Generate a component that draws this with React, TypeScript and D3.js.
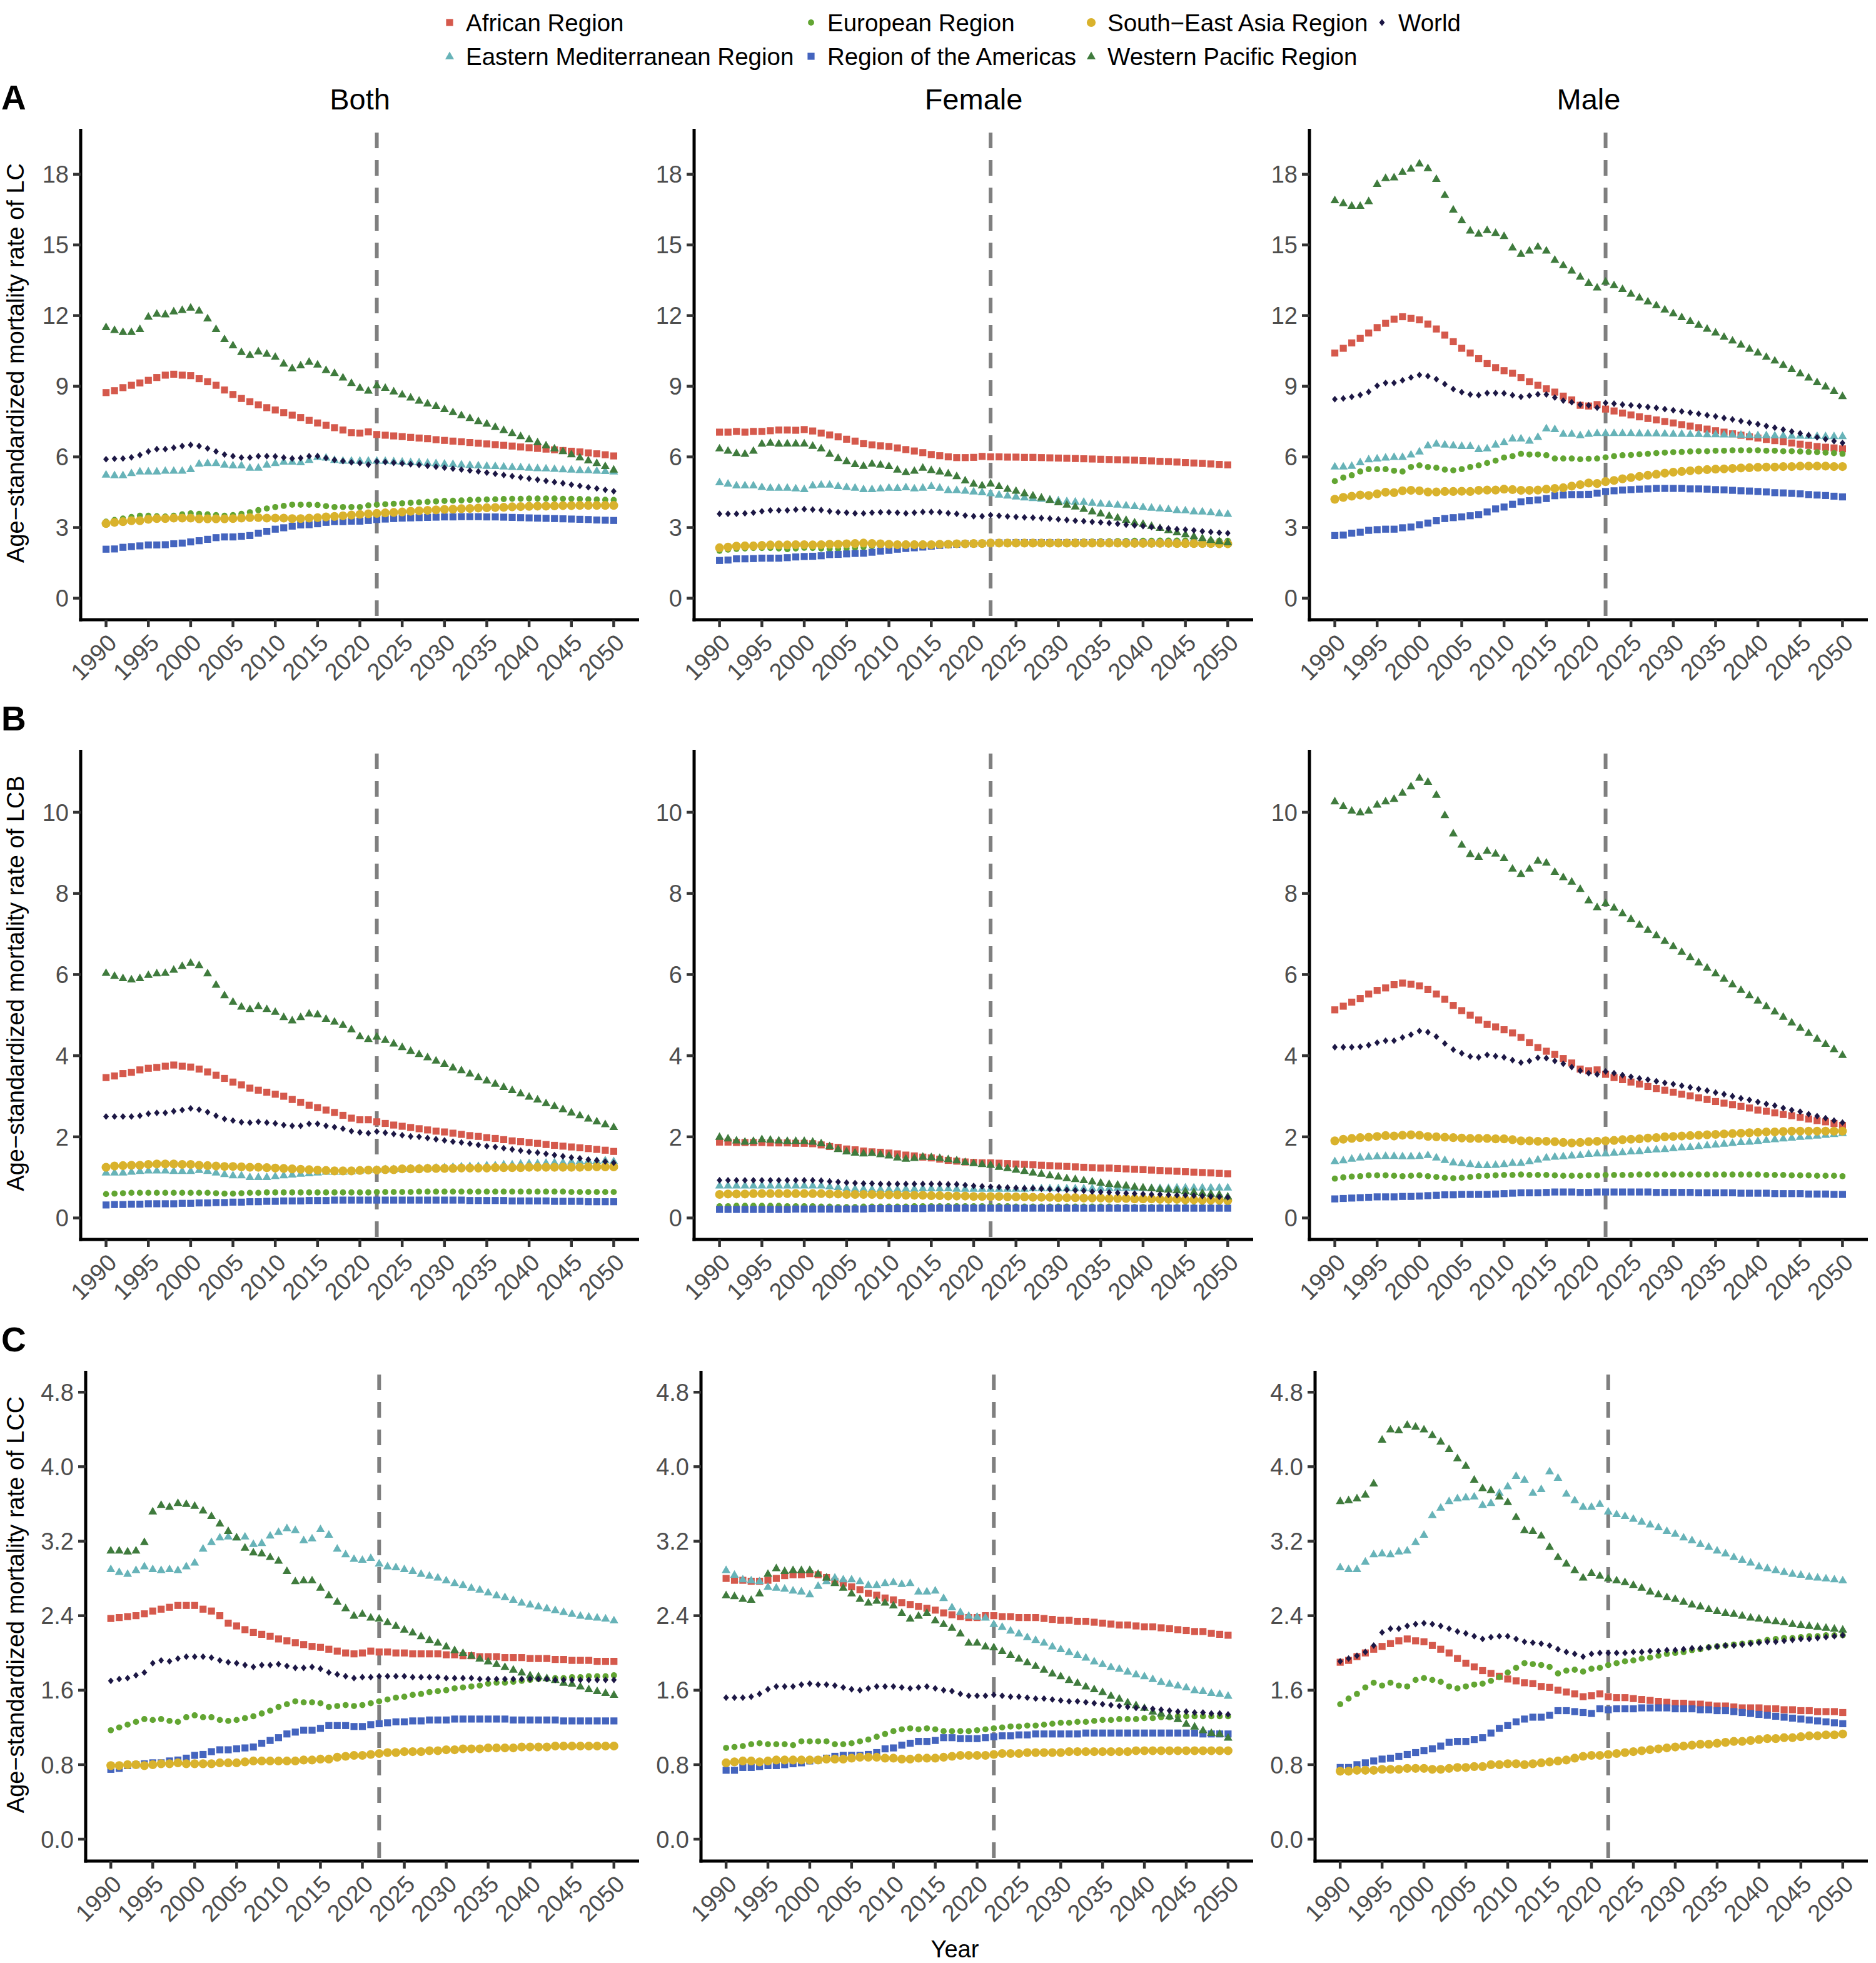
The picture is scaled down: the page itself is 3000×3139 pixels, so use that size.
import React from "react";
import * as d3 from "d3";

// ---------- categories ----------
const YEARS = d3.range(1990, 2051);
const X_TICKS = d3.range(1990, 2051, 5);
const SEXES = ["Both", "Female", "Male"];
const REGIONS = ["African Region", "Eastern Mediterranean Region", "European Region", "Region of the Americas", "South\u2212East Asia Region", "Western Pacific Region", "World"];
const LC_TICKS = [0, 3, 6, 9, 12, 15, 18];
const LCB_TICKS = [0, 2, 4, 6, 8, 10];
const LCC_TICKS = [0, 0.8, 1.6, 2.4, 3.2, 4.0, 4.8];
const PROJECTION_START = 2022;

// ---------- LC (A) ----------
const LC_BOTH_AFR = [8.73,8.81,8.94,9.04,9.14,9.25,9.37,9.47,9.51,9.47, 9.45,9.32,9.19,9.04,8.84,8.65,8.48,8.34,8.21,8.09, 7.99,7.88,7.77,7.67,7.55,7.44,7.34,7.24,7.14,7.03, 7.01,7.06,6.95,6.92,6.89,6.86,6.83,6.80,6.77,6.73, 6.70,6.67,6.64,6.61,6.58,6.55,6.52,6.49,6.46,6.42, 6.39,6.36,6.33,6.30,6.27,6.24,6.21,6.17,6.13,6.09, 6.04];
const LC_BOTH_EMR = [5.25,5.22,5.22,5.31,5.38,5.38,5.38,5.41,5.41,5.41, 5.48,5.71,5.74,5.74,5.67,5.64,5.64,5.54,5.54,5.67, 5.74,5.80,5.80,5.77,5.87,6.00,5.97,5.87,5.84,5.84, 5.84,5.84,5.84,5.83,5.81,5.80,5.78,5.77,5.75,5.73, 5.71,5.70,5.68,5.66,5.64,5.62,5.61,5.59,5.57,5.56, 5.54,5.52,5.51,5.49,5.47,5.46,5.44,5.43,5.41,5.40, 5.38];
const LC_BOTH_EUR = [3.25,3.32,3.38,3.45,3.50,3.50,3.48,3.47,3.50,3.56, 3.60,3.58,3.56,3.53,3.50,3.53,3.58,3.65,3.74,3.81, 3.87,3.92,3.97,3.97,3.97,3.96,3.91,3.87,3.87,3.87, 3.87,3.94,3.97,3.99,4.01,4.03,4.05,4.07,4.09,4.11, 4.13,4.14,4.15,4.17,4.18,4.19,4.20,4.21,4.22,4.22, 4.23,4.23,4.23,4.23,4.22,4.22,4.21,4.20,4.19,4.18, 4.17];
const LC_BOTH_AMR = [2.08,2.09,2.16,2.19,2.22,2.26,2.26,2.27,2.31,2.34, 2.39,2.44,2.50,2.57,2.60,2.60,2.63,2.66,2.76,2.84, 2.93,2.99,3.06,3.11,3.12,3.16,3.22,3.25,3.25,3.27, 3.27,3.30,3.34,3.36,3.38,3.40,3.41,3.42,3.43,3.44, 3.45,3.45,3.46,3.46,3.46,3.45,3.45,3.44,3.43,3.42, 3.41,3.40,3.39,3.38,3.37,3.36,3.35,3.34,3.32,3.31, 3.30];
const LC_BOTH_SEAR = [3.17,3.22,3.25,3.29,3.29,3.35,3.38,3.38,3.40,3.40, 3.40,3.37,3.37,3.37,3.37,3.38,3.40,3.42,3.42,3.40, 3.40,3.40,3.38,3.38,3.40,3.42,3.45,3.47,3.50,3.53, 3.56,3.58,3.60,3.62,3.64,3.66,3.69,3.71,3.73,3.75, 3.77,3.78,3.80,3.81,3.83,3.84,3.85,3.86,3.88,3.89, 3.90,3.91,3.91,3.92,3.93,3.93,3.94,3.94,3.94,3.94, 3.94];
const LC_BOTH_WPR = [11.51,11.39,11.30,11.30,11.43,11.95,12.08,12.05,12.18,12.24, 12.34,12.21,11.88,11.43,11.00,10.74,10.45,10.33,10.48,10.38, 10.25,9.96,9.76,9.89,10.04,9.92,9.69,9.56,9.37,9.14, 8.94,8.81,9.04,8.93,8.78,8.65,8.52,8.39,8.27,8.16, 8.03,7.90,7.77,7.65,7.52,7.41,7.27,7.14,7.01,6.88, 6.75,6.62,6.49,6.36,6.24,6.11,5.98,5.85,5.74,5.61, 5.46];
const LC_BOTH_WORLD = [5.90,5.92,5.93,5.98,6.08,6.23,6.33,6.33,6.39,6.46, 6.51,6.46,6.36,6.23,6.10,6.03,5.97,5.97,6.03,6.03, 6.02,5.97,5.93,5.95,6.03,6.03,5.95,5.87,5.82,5.77, 5.74,5.67,5.80,5.78,5.75,5.72,5.69,5.66,5.62,5.58, 5.54,5.50,5.46,5.42,5.38,5.33,5.28,5.23,5.18,5.13, 5.08,5.03,4.98,4.93,4.88,4.82,4.77,4.71,4.66,4.60, 4.54];

const LC_FEMALE_AFR = [7.05,7.05,7.08,7.05,7.08,7.08,7.11,7.14,7.14,7.13, 7.16,7.10,7.01,6.93,6.85,6.75,6.67,6.56,6.51,6.47, 6.44,6.38,6.31,6.25,6.18,6.10,6.05,6.00,5.97,5.97, 5.98,6.02,6.00,6.00,5.99,5.99,5.98,5.98,5.97,5.96, 5.95,5.94,5.93,5.92,5.91,5.90,5.89,5.88,5.87,5.86, 5.84,5.83,5.81,5.80,5.78,5.76,5.74,5.72,5.70,5.68, 5.66];
const LC_FEMALE_EMR = [4.92,4.86,4.79,4.79,4.79,4.72,4.69,4.69,4.69,4.66, 4.63,4.79,4.82,4.82,4.76,4.72,4.69,4.63,4.63,4.66, 4.69,4.68,4.71,4.66,4.69,4.76,4.69,4.59,4.59,4.56, 4.53,4.50,4.46,4.40,4.36,4.32,4.28,4.25,4.22,4.19, 4.15,4.12,4.10,4.09,4.05,4.02,3.99,3.97,3.94,3.91, 3.87,3.84,3.81,3.78,3.74,3.73,3.69,3.68,3.65,3.61, 3.58];
const LC_FEMALE_EUR = [2.01,2.06,2.09,2.11,2.13,2.13,2.13,2.11,2.08,2.11, 2.14,2.13,2.11,2.09,2.09,2.11,2.14,2.17,2.21,2.24, 2.27,2.31,2.32,2.32,2.32,2.31,2.29,2.29,2.29,2.29, 2.29,2.31,2.34,2.34,2.35,2.35,2.36,2.36,2.37,2.38, 2.39,2.39,2.40,2.41,2.41,2.42,2.42,2.43,2.43,2.44, 2.44,2.44,2.45,2.45,2.45,2.45,2.45,2.45,2.44,2.44, 2.44];
const LC_FEMALE_AMR = [1.60,1.62,1.67,1.67,1.68,1.70,1.70,1.70,1.72,1.75, 1.77,1.78,1.80,1.85,1.86,1.88,1.90,1.91,1.95,2.00, 2.03,2.08,2.11,2.14,2.17,2.21,2.24,2.27,2.29,2.31, 2.31,2.32,2.34,2.35,2.35,2.36,2.36,2.36,2.36,2.36, 2.36,2.36,2.36,2.36,2.36,2.36,2.35,2.35,2.35,2.35, 2.35,2.34,2.34,2.34,2.34,2.33,2.33,2.33,2.32,2.32, 2.32];
const LC_FEMALE_SEAR = [2.14,2.17,2.21,2.22,2.22,2.24,2.26,2.26,2.26,2.27, 2.27,2.26,2.27,2.29,2.29,2.31,2.32,2.34,2.32,2.31, 2.29,2.27,2.27,2.27,2.27,2.27,2.29,2.29,2.31,2.31, 2.32,2.32,2.34,2.34,2.34,2.34,2.34,2.34,2.34,2.34, 2.34,2.34,2.34,2.34,2.34,2.34,2.34,2.34,2.33,2.33, 2.33,2.33,2.33,2.33,2.32,2.32,2.32,2.32,2.32,2.31, 2.31];
const LC_FEMALE_WPR = [6.36,6.26,6.16,6.13,6.26,6.56,6.60,6.56,6.57,6.57, 6.57,6.47,6.36,6.13,5.95,5.82,5.69,5.62,5.71,5.67, 5.61,5.46,5.35,5.41,5.54,5.44,5.38,5.30,5.18,5.00, 4.86,4.79,4.87,4.76,4.64,4.56,4.46,4.36,4.27,4.17, 4.07,3.97,3.89,3.79,3.69,3.60,3.50,3.42,3.32,3.22, 3.16,3.07,2.98,2.89,2.80,2.71,2.63,2.55,2.47,2.42, 2.37];
const LC_FEMALE_WORLD = [3.58,3.58,3.58,3.60,3.63,3.69,3.73,3.73,3.73,3.76, 3.78,3.76,3.74,3.69,3.65,3.63,3.60,3.60,3.63,3.65, 3.65,3.63,3.60,3.63,3.66,3.66,3.65,3.61,3.58,3.51, 3.48,3.48,3.53,3.50,3.47,3.45,3.43,3.42,3.40,3.38, 3.35,3.32,3.29,3.27,3.24,3.22,3.19,3.16,3.12,3.09, 3.06,3.02,2.99,2.96,2.93,2.91,2.88,2.84,2.81,2.78, 2.76];

const LC_MALE_AFR = [10.41,10.61,10.84,11.03,11.26,11.49,11.67,11.85,11.95,11.88, 11.82,11.64,11.43,11.17,10.89,10.61,10.41,10.17,9.96,9.79, 9.66,9.55,9.37,9.19,9.04,8.89,8.75,8.58,8.42,8.19, 8.16,8.22,8.03,7.95,7.86,7.78,7.70,7.63,7.57,7.50, 7.44,7.37,7.31,7.24,7.18,7.11,7.05,6.98,6.92,6.85, 6.80,6.74,6.69,6.64,6.59,6.54,6.49,6.44,6.41,6.38, 6.34];
const LC_MALE_EMR = [5.59,5.59,5.62,5.77,5.90,5.93,5.97,6.00,6.00,6.10, 6.23,6.49,6.56,6.52,6.49,6.46,6.46,6.33,6.36,6.52, 6.62,6.78,6.78,6.69,6.85,7.21,7.18,6.98,6.98,6.92, 6.98,7.01,7.01,7.01,7.01,7.01,7.00,7.00,7.00,6.99, 6.98,6.98,6.97,6.97,6.96,6.96,6.95,6.95,6.94,6.93, 6.92,6.92,6.91,6.91,6.90,6.90,6.89,6.89,6.88,6.88, 6.88];
const LC_MALE_EUR = [4.97,5.12,5.22,5.38,5.48,5.48,5.48,5.41,5.38,5.57, 5.64,5.57,5.54,5.46,5.43,5.48,5.57,5.64,5.74,5.84, 5.97,6.03,6.13,6.10,6.10,6.07,5.93,5.93,5.93,5.90, 5.92,5.93,5.98,6.03,6.07,6.08,6.11,6.13,6.16,6.18, 6.20,6.21,6.23,6.24,6.24,6.26,6.26,6.28,6.28,6.28, 6.28,6.26,6.26,6.24,6.24,6.23,6.21,6.20,6.18,6.16, 6.13];
const LC_MALE_AMR = [2.66,2.68,2.76,2.80,2.88,2.91,2.93,2.93,2.99,3.02, 3.12,3.19,3.29,3.38,3.42,3.45,3.50,3.55,3.66,3.79, 3.87,3.99,4.09,4.14,4.17,4.23,4.35,4.38,4.40,4.40, 4.41,4.46,4.53,4.56,4.59,4.61,4.63,4.64,4.66,4.66, 4.66,4.66,4.64,4.64,4.63,4.61,4.60,4.58,4.56,4.55, 4.53,4.51,4.48,4.47,4.45,4.43,4.40,4.38,4.36,4.33, 4.30];
const LC_MALE_SEAR = [4.20,4.28,4.33,4.38,4.36,4.43,4.50,4.48,4.56,4.58, 4.56,4.51,4.51,4.53,4.53,4.54,4.53,4.58,4.59,4.59, 4.63,4.61,4.58,4.58,4.59,4.63,4.66,4.69,4.76,4.82, 4.89,4.87,4.95,5.00,5.07,5.12,5.17,5.22,5.26,5.31, 5.35,5.38,5.41,5.44,5.46,5.48,5.49,5.51,5.53,5.54, 5.56,5.57,5.57,5.59,5.59,5.61,5.61,5.61,5.61,5.59, 5.59];
const LC_MALE_WPR = [16.90,16.77,16.66,16.66,16.86,17.59,17.84,17.87,18.10,18.24, 18.46,18.26,17.80,17.12,16.50,16.05,15.61,15.48,15.63,15.51, 15.38,14.89,14.62,14.76,14.93,14.76,14.37,14.14,13.91,13.65, 13.39,13.19,13.44,13.29,13.13,12.93,12.77,12.60,12.44,12.26, 12.10,11.93,11.77,11.61,11.44,11.28,11.10,10.94,10.77,10.59, 10.43,10.25,10.09,9.91,9.73,9.55,9.37,9.17,8.99,8.80, 8.58];
const LC_MALE_WORLD = [8.45,8.48,8.55,8.63,8.76,9.02,9.14,9.14,9.25,9.37, 9.48,9.43,9.30,9.09,8.88,8.75,8.65,8.62,8.71,8.71, 8.70,8.62,8.55,8.60,8.66,8.65,8.52,8.39,8.32,8.22, 8.19,8.09,8.29,8.26,8.22,8.19,8.16,8.12,8.08,8.03, 7.98,7.93,7.88,7.83,7.77,7.72,7.65,7.59,7.52,7.45, 7.39,7.31,7.24,7.16,7.08,7.00,6.92,6.83,6.75,6.67, 6.59];

// ---------- LCB (B) ----------
const LCB_BOTH_AFR = [3.46,3.50,3.56,3.59,3.65,3.69,3.71,3.74,3.77,3.74, 3.72,3.67,3.60,3.52,3.44,3.35,3.28,3.20,3.15,3.10, 3.05,3.00,2.92,2.85,2.78,2.72,2.66,2.60,2.53,2.46, 2.42,2.42,2.37,2.33,2.29,2.26,2.23,2.20,2.17,2.14, 2.12,2.09,2.06,2.03,2.01,1.98,1.96,1.93,1.90,1.88, 1.86,1.84,1.81,1.79,1.77,1.75,1.73,1.71,1.69,1.67, 1.64];
const LCB_BOTH_EMR = [1.12,1.12,1.12,1.14,1.16,1.17,1.17,1.17,1.16,1.16, 1.16,1.18,1.16,1.12,1.08,1.05,1.05,1.01,1.01,1.01, 1.03,1.05,1.07,1.09,1.10,1.12,1.14,1.14,1.14,1.15, 1.17,1.18,1.19,1.20,1.20,1.21,1.22,1.23,1.23,1.24, 1.25,1.26,1.27,1.28,1.28,1.30,1.30,1.32,1.32,1.34, 1.35,1.35,1.36,1.37,1.37,1.39,1.40,1.41,1.41,1.42, 1.40];
const LCB_BOTH_EUR = [0.59,0.60,0.61,0.62,0.62,0.62,0.62,0.62,0.62,0.62, 0.62,0.62,0.62,0.61,0.60,0.60,0.61,0.62,0.62,0.63, 0.63,0.63,0.63,0.63,0.63,0.63,0.63,0.63,0.63,0.63, 0.63,0.63,0.64,0.64,0.64,0.64,0.64,0.65,0.65,0.65, 0.65,0.65,0.65,0.65,0.65,0.65,0.65,0.65,0.65,0.65, 0.65,0.65,0.65,0.65,0.65,0.64,0.64,0.64,0.64,0.64, 0.64];
const LCB_BOTH_AMR = [0.32,0.33,0.33,0.34,0.34,0.35,0.35,0.35,0.35,0.36, 0.36,0.37,0.37,0.38,0.38,0.39,0.39,0.40,0.40,0.41, 0.41,0.42,0.42,0.42,0.43,0.43,0.43,0.44,0.44,0.44, 0.44,0.44,0.44,0.44,0.44,0.44,0.44,0.44,0.44,0.44, 0.44,0.44,0.44,0.43,0.43,0.43,0.43,0.43,0.42,0.42, 0.42,0.42,0.42,0.41,0.41,0.41,0.41,0.40,0.40,0.40, 0.40];
const LCB_BOTH_SEAR = [1.25,1.28,1.29,1.30,1.30,1.32,1.33,1.33,1.33,1.32, 1.32,1.30,1.29,1.28,1.27,1.27,1.26,1.25,1.25,1.24, 1.23,1.22,1.21,1.20,1.19,1.18,1.17,1.16,1.16,1.16, 1.17,1.18,1.18,1.19,1.19,1.21,1.21,1.21,1.22,1.22, 1.22,1.22,1.23,1.23,1.23,1.23,1.24,1.24,1.24,1.24, 1.25,1.25,1.25,1.25,1.25,1.25,1.25,1.26,1.26,1.26, 1.26];
const LCB_BOTH_WPR = [6.04,5.97,5.91,5.88,5.91,5.99,6.03,6.04,6.12,6.21, 6.29,6.23,6.03,5.75,5.49,5.33,5.21,5.15,5.22,5.15, 5.08,4.95,4.87,4.95,5.04,5.02,4.91,4.84,4.76,4.65, 4.48,4.41,4.47,4.39,4.30,4.21,4.12,4.04,3.96,3.88, 3.80,3.71,3.64,3.56,3.47,3.39,3.31,3.23,3.15,3.07, 2.99,2.92,2.83,2.76,2.68,2.60,2.53,2.45,2.38,2.31, 2.24];
const LCB_BOTH_WORLD = [2.50,2.50,2.50,2.50,2.52,2.57,2.59,2.59,2.63,2.66, 2.70,2.67,2.61,2.52,2.44,2.40,2.36,2.35,2.37,2.35, 2.33,2.29,2.27,2.27,2.32,2.32,2.27,2.24,2.20,2.14, 2.11,2.09,2.13,2.10,2.07,2.04,2.01,2.00,1.97,1.94, 1.91,1.88,1.86,1.83,1.80,1.77,1.75,1.72,1.69,1.66, 1.63,1.61,1.58,1.55,1.52,1.49,1.47,1.44,1.42,1.39, 1.36];

const LCB_FEMALE_AFR = [1.87,1.87,1.86,1.86,1.86,1.86,1.85,1.85,1.85,1.84, 1.84,1.83,1.80,1.76,1.74,1.70,1.68,1.65,1.63,1.62, 1.60,1.58,1.55,1.53,1.50,1.48,1.45,1.42,1.40,1.38, 1.37,1.36,1.36,1.35,1.34,1.33,1.32,1.31,1.30,1.29, 1.28,1.27,1.26,1.25,1.24,1.23,1.23,1.22,1.21,1.20, 1.19,1.18,1.17,1.16,1.15,1.14,1.13,1.12,1.11,1.10, 1.09];
const LCB_FEMALE_EMR = [0.80,0.80,0.80,0.80,0.80,0.80,0.80,0.80,0.80,0.80, 0.80,0.80,0.80,0.78,0.76,0.73,0.72,0.72,0.71,0.71, 0.71,0.71,0.72,0.72,0.73,0.73,0.73,0.73,0.72,0.72, 0.72,0.72,0.72,0.72,0.72,0.72,0.72,0.73,0.73,0.73, 0.73,0.73,0.73,0.73,0.73,0.74,0.74,0.74,0.74,0.74, 0.74,0.74,0.74,0.74,0.75,0.75,0.75,0.75,0.75,0.75, 0.75];
const LCB_FEMALE_EUR = [0.29,0.29,0.30,0.30,0.30,0.30,0.30,0.30,0.29,0.29, 0.29,0.29,0.28,0.28,0.27,0.27,0.27,0.28,0.28,0.28, 0.28,0.28,0.28,0.29,0.29,0.29,0.29,0.29,0.29,0.29, 0.29,0.29,0.29,0.29,0.29,0.28,0.28,0.28,0.28,0.28, 0.28,0.28,0.28,0.28,0.28,0.28,0.28,0.27,0.27,0.27, 0.27,0.27,0.27,0.27,0.27,0.27,0.27,0.27,0.27,0.27, 0.27];
const LCB_FEMALE_AMR = [0.21,0.21,0.21,0.21,0.21,0.21,0.21,0.21,0.21,0.22, 0.22,0.22,0.22,0.22,0.22,0.22,0.22,0.22,0.23,0.23, 0.23,0.23,0.23,0.23,0.23,0.24,0.24,0.24,0.24,0.24, 0.24,0.24,0.24,0.24,0.24,0.24,0.24,0.24,0.24,0.24, 0.24,0.24,0.24,0.24,0.24,0.24,0.24,0.24,0.24,0.24, 0.24,0.24,0.24,0.24,0.24,0.24,0.24,0.24,0.24,0.24, 0.24];
const LCB_FEMALE_SEAR = [0.58,0.59,0.59,0.59,0.60,0.60,0.60,0.60,0.60,0.60, 0.60,0.60,0.60,0.59,0.59,0.58,0.58,0.58,0.58,0.57, 0.57,0.57,0.56,0.56,0.56,0.55,0.55,0.54,0.54,0.54, 0.53,0.53,0.53,0.53,0.52,0.52,0.52,0.51,0.51,0.51, 0.50,0.50,0.50,0.49,0.49,0.49,0.48,0.48,0.48,0.47, 0.47,0.47,0.46,0.46,0.46,0.45,0.45,0.44,0.44,0.44, 0.43];
const LCB_FEMALE_WPR = [2.00,1.96,1.91,1.88,1.90,1.94,1.93,1.91,1.90,1.90, 1.90,1.88,1.84,1.77,1.70,1.64,1.61,1.59,1.60,1.57, 1.54,1.49,1.46,1.48,1.51,1.50,1.48,1.45,1.42,1.38, 1.35,1.33,1.31,1.26,1.23,1.19,1.16,1.12,1.09,1.05, 1.02,0.98,0.96,0.93,0.90,0.87,0.84,0.82,0.80,0.77, 0.75,0.73,0.71,0.70,0.68,0.66,0.64,0.62,0.60,0.58, 0.53];
const LCB_FEMALE_WORLD = [0.93,0.93,0.93,0.93,0.93,0.93,0.93,0.93,0.93,0.93, 0.93,0.93,0.92,0.90,0.89,0.87,0.86,0.85,0.85,0.84, 0.84,0.84,0.84,0.84,0.84,0.84,0.84,0.83,0.83,0.81, 0.79,0.78,0.77,0.76,0.75,0.74,0.73,0.73,0.72,0.71, 0.70,0.69,0.68,0.67,0.65,0.64,0.63,0.62,0.61,0.60, 0.59,0.58,0.58,0.57,0.56,0.56,0.55,0.54,0.53,0.52, 0.51];

const LCB_MALE_AFR = [5.13,5.22,5.32,5.41,5.52,5.61,5.67,5.75,5.79,5.76, 5.72,5.63,5.52,5.39,5.24,5.11,5.00,4.88,4.77,4.71, 4.64,4.56,4.45,4.32,4.20,4.11,4.03,3.93,3.82,3.67, 3.63,3.65,3.54,3.46,3.41,3.35,3.30,3.24,3.19,3.15, 3.10,3.05,3.01,2.96,2.92,2.87,2.83,2.79,2.75,2.71, 2.66,2.63,2.59,2.55,2.52,2.48,2.44,2.40,2.37,2.33, 2.28];
const LCB_MALE_EMR = [1.40,1.42,1.46,1.49,1.51,1.52,1.53,1.53,1.52,1.52, 1.53,1.55,1.49,1.43,1.37,1.35,1.33,1.30,1.30,1.31, 1.33,1.36,1.36,1.40,1.44,1.49,1.51,1.52,1.54,1.55, 1.58,1.59,1.59,1.61,1.62,1.64,1.65,1.67,1.69,1.70, 1.72,1.74,1.75,1.77,1.79,1.81,1.83,1.85,1.87,1.88, 1.90,1.92,1.94,1.96,1.98,2.00,2.01,2.03,2.05,2.07, 2.09];
const LCB_MALE_EUR = [0.97,1.00,1.02,1.03,1.05,1.05,1.05,1.04,1.03,1.04, 1.05,1.03,1.01,0.99,0.98,0.99,1.01,1.03,1.04,1.05, 1.06,1.06,1.07,1.06,1.06,1.06,1.05,1.04,1.04,1.04, 1.05,1.05,1.06,1.06,1.06,1.06,1.07,1.07,1.07,1.07, 1.07,1.07,1.07,1.07,1.07,1.07,1.07,1.07,1.07,1.07, 1.07,1.06,1.06,1.06,1.05,1.05,1.05,1.04,1.04,1.04, 1.03];
const LCB_MALE_AMR = [0.47,0.48,0.49,0.50,0.51,0.52,0.52,0.52,0.53,0.53, 0.54,0.55,0.56,0.57,0.57,0.58,0.58,0.58,0.58,0.59, 0.60,0.61,0.62,0.62,0.62,0.63,0.64,0.64,0.64,0.63, 0.63,0.64,0.64,0.64,0.64,0.64,0.64,0.64,0.63,0.63, 0.63,0.63,0.63,0.62,0.62,0.62,0.62,0.62,0.61,0.61, 0.61,0.61,0.60,0.60,0.60,0.60,0.59,0.59,0.59,0.58, 0.58];
const LCB_MALE_SEAR = [1.90,1.94,1.96,1.98,1.99,2.01,2.03,2.02,2.04,2.05, 2.04,2.01,2.00,1.99,1.98,1.97,1.96,1.96,1.96,1.95, 1.95,1.93,1.90,1.90,1.89,1.89,1.88,1.86,1.85,1.86, 1.88,1.89,1.90,1.91,1.93,1.94,1.95,1.97,1.98,2.00, 2.01,2.02,2.03,2.04,2.05,2.06,2.07,2.08,2.09,2.10, 2.11,2.12,2.12,2.13,2.14,2.14,2.14,2.14,2.14,2.14, 2.14];
const LCB_MALE_WPR = [10.27,10.15,10.04,10.00,10.04,10.19,10.27,10.33,10.48,10.64, 10.85,10.75,10.43,9.93,9.48,9.20,8.97,8.90,9.05,8.98, 8.87,8.61,8.48,8.61,8.81,8.76,8.53,8.40,8.29,8.11, 7.83,7.66,7.76,7.65,7.51,7.37,7.23,7.10,6.97,6.83, 6.70,6.56,6.43,6.30,6.17,6.03,5.90,5.76,5.62,5.49, 5.36,5.22,5.09,4.96,4.82,4.69,4.56,4.42,4.29,4.16, 4.02];
const LCB_MALE_WORLD = [4.21,4.21,4.21,4.22,4.26,4.32,4.37,4.37,4.45,4.52, 4.61,4.58,4.47,4.30,4.15,4.06,3.98,3.96,4.02,3.99, 3.96,3.89,3.83,3.87,3.95,3.94,3.87,3.80,3.72,3.63, 3.57,3.54,3.61,3.57,3.52,3.48,3.44,3.41,3.37,3.33, 3.30,3.26,3.22,3.18,3.14,3.09,3.05,3.00,2.95,2.91, 2.86,2.81,2.77,2.71,2.66,2.62,2.56,2.51,2.46,2.40, 2.35];

// ---------- LCC (C) ----------
const LCC_BOTH_AFR = [2.37,2.38,2.39,2.40,2.42,2.45,2.47,2.49,2.51,2.51, 2.51,2.47,2.45,2.40,2.32,2.29,2.25,2.22,2.20,2.18, 2.15,2.13,2.11,2.09,2.07,2.06,2.04,2.02,2.00,1.99, 2.00,2.02,2.01,2.01,2.00,2.00,1.99,1.99,1.99,1.99, 1.98,1.98,1.97,1.97,1.96,1.96,1.96,1.95,1.95,1.95, 1.94,1.94,1.94,1.93,1.93,1.92,1.92,1.92,1.91,1.91, 1.91];
const LCC_BOTH_EMR = [2.90,2.87,2.85,2.89,2.93,2.90,2.89,2.90,2.89,2.93, 2.97,3.12,3.19,3.24,3.25,3.24,3.25,3.17,3.18,3.26, 3.30,3.34,3.32,3.21,3.23,3.33,3.27,3.12,3.06,3.01, 3.00,3.02,2.96,2.93,2.92,2.90,2.88,2.85,2.83,2.81, 2.78,2.75,2.73,2.70,2.68,2.65,2.62,2.60,2.57,2.54, 2.52,2.50,2.48,2.46,2.44,2.42,2.40,2.39,2.38,2.37, 2.35];
const LCC_BOTH_EUR = [1.17,1.20,1.23,1.26,1.29,1.28,1.29,1.27,1.26,1.31, 1.33,1.31,1.31,1.28,1.27,1.28,1.30,1.32,1.35,1.38, 1.42,1.45,1.48,1.47,1.47,1.46,1.42,1.43,1.44,1.43, 1.44,1.46,1.48,1.50,1.52,1.53,1.55,1.56,1.58,1.59, 1.60,1.62,1.63,1.64,1.65,1.67,1.68,1.68,1.69,1.70, 1.71,1.72,1.72,1.73,1.73,1.74,1.74,1.75,1.75,1.75, 1.76];
const LCC_BOTH_AMR = [0.75,0.76,0.79,0.80,0.81,0.82,0.82,0.84,0.85,0.87, 0.90,0.91,0.94,0.96,0.96,0.97,0.98,0.99,1.03,1.06, 1.09,1.13,1.15,1.17,1.17,1.19,1.22,1.22,1.22,1.21, 1.21,1.23,1.24,1.25,1.26,1.26,1.27,1.27,1.28,1.28, 1.28,1.29,1.29,1.29,1.29,1.29,1.29,1.29,1.28,1.28, 1.28,1.28,1.28,1.28,1.27,1.27,1.27,1.27,1.27,1.27, 1.27];
const LCC_BOTH_SEAR = [0.79,0.79,0.80,0.80,0.79,0.80,0.81,0.81,0.82,0.81, 0.81,0.81,0.81,0.82,0.82,0.82,0.83,0.84,0.84,0.84, 0.84,0.84,0.84,0.85,0.85,0.86,0.86,0.88,0.89,0.90, 0.90,0.91,0.92,0.93,0.93,0.94,0.94,0.94,0.95,0.95, 0.96,0.96,0.97,0.97,0.97,0.98,0.98,0.98,0.98,0.99, 0.99,0.99,0.99,1.00,1.00,1.00,1.00,1.00,1.00,1.00, 1.00];
const LCC_BOTH_WPR = [3.10,3.10,3.09,3.10,3.19,3.52,3.59,3.57,3.61,3.60, 3.58,3.53,3.47,3.39,3.31,3.24,3.13,3.08,3.07,3.03, 2.99,2.88,2.77,2.78,2.78,2.70,2.62,2.55,2.48,2.40, 2.42,2.38,2.37,2.33,2.29,2.25,2.22,2.18,2.14,2.11, 2.07,2.03,2.00,1.97,1.94,1.91,1.88,1.85,1.82,1.79, 1.76,1.75,1.73,1.71,1.68,1.67,1.64,1.61,1.59,1.57, 1.55];
const LCC_BOTH_WORLD = [1.70,1.72,1.73,1.76,1.79,1.89,1.92,1.91,1.94,1.96, 1.96,1.96,1.95,1.92,1.90,1.89,1.87,1.85,1.87,1.87, 1.88,1.86,1.84,1.84,1.85,1.83,1.79,1.77,1.75,1.73, 1.74,1.74,1.75,1.75,1.75,1.75,1.74,1.74,1.74,1.74, 1.73,1.73,1.73,1.73,1.72,1.72,1.72,1.72,1.72,1.72, 1.72,1.72,1.72,1.71,1.71,1.71,1.71,1.71,1.71,1.71, 1.71];

const LCC_FEMALE_AFR = [2.80,2.78,2.78,2.77,2.77,2.78,2.80,2.83,2.84,2.84, 2.85,2.84,2.81,2.77,2.75,2.71,2.68,2.64,2.62,2.59, 2.57,2.54,2.52,2.50,2.48,2.46,2.43,2.41,2.39,2.38, 2.38,2.40,2.40,2.39,2.39,2.38,2.38,2.38,2.37,2.36, 2.35,2.35,2.34,2.34,2.33,2.32,2.31,2.30,2.30,2.29, 2.28,2.28,2.27,2.26,2.25,2.24,2.23,2.23,2.21,2.20, 2.19];
const LCC_FEMALE_EMR = [2.89,2.84,2.79,2.78,2.77,2.71,2.70,2.69,2.67,2.66, 2.63,2.72,2.77,2.81,2.79,2.79,2.77,2.73,2.73,2.75, 2.76,2.74,2.75,2.66,2.66,2.67,2.59,2.49,2.44,2.40, 2.39,2.38,2.31,2.28,2.24,2.21,2.17,2.14,2.11,2.07, 2.04,2.01,1.98,1.95,1.91,1.88,1.85,1.83,1.80,1.77, 1.75,1.72,1.69,1.67,1.65,1.63,1.60,1.59,1.57,1.56, 1.54];
const LCC_FEMALE_EUR = [0.98,0.99,1.00,1.02,1.03,1.02,1.02,1.02,1.01,1.05, 1.05,1.05,1.05,1.02,1.02,1.03,1.05,1.07,1.10,1.13, 1.16,1.18,1.19,1.18,1.19,1.18,1.16,1.16,1.16,1.16, 1.17,1.18,1.19,1.20,1.21,1.21,1.22,1.22,1.23,1.24, 1.25,1.25,1.26,1.26,1.27,1.28,1.28,1.29,1.29,1.29, 1.30,1.30,1.31,1.31,1.32,1.32,1.32,1.32,1.32,1.32, 1.32];
const LCC_FEMALE_AMR = [0.74,0.74,0.77,0.77,0.78,0.79,0.79,0.80,0.81,0.82, 0.84,0.85,0.87,0.89,0.90,0.90,0.90,0.91,0.93,0.97, 0.98,1.01,1.03,1.05,1.05,1.06,1.09,1.09,1.08,1.08, 1.08,1.09,1.10,1.11,1.11,1.12,1.12,1.13,1.13,1.13, 1.13,1.13,1.13,1.14,1.14,1.14,1.14,1.14,1.14,1.14, 1.14,1.14,1.14,1.14,1.14,1.14,1.14,1.13,1.13,1.13, 1.13];
const LCC_FEMALE_SEAR = [0.82,0.83,0.84,0.84,0.83,0.84,0.85,0.85,0.85,0.85, 0.85,0.85,0.86,0.86,0.86,0.87,0.88,0.88,0.88,0.87, 0.87,0.86,0.86,0.87,0.87,0.87,0.88,0.89,0.90,0.90, 0.90,0.90,0.91,0.92,0.92,0.92,0.93,0.93,0.93,0.93, 0.93,0.94,0.94,0.94,0.94,0.94,0.94,0.94,0.94,0.95, 0.95,0.95,0.95,0.95,0.95,0.95,0.95,0.95,0.95,0.95, 0.95];
const LCC_FEMALE_WPR = [2.62,2.61,2.58,2.57,2.64,2.85,2.91,2.88,2.89,2.89, 2.89,2.85,2.81,2.75,2.70,2.64,2.58,2.54,2.56,2.54, 2.51,2.43,2.37,2.40,2.43,2.35,2.31,2.27,2.21,2.11, 2.11,2.07,2.06,2.02,1.98,1.94,1.90,1.86,1.82,1.78, 1.75,1.71,1.68,1.64,1.61,1.58,1.54,1.51,1.47,1.44, 1.41,1.37,1.35,1.32,1.29,1.24,1.21,1.17,1.14,1.13, 1.09];
const LCC_FEMALE_WORLD = [1.52,1.52,1.52,1.53,1.56,1.61,1.64,1.64,1.64,1.66, 1.67,1.66,1.66,1.65,1.63,1.61,1.60,1.62,1.64,1.64, 1.64,1.63,1.62,1.63,1.64,1.62,1.60,1.59,1.56,1.54, 1.54,1.54,1.55,1.54,1.53,1.53,1.52,1.51,1.51,1.50, 1.49,1.48,1.48,1.47,1.46,1.45,1.44,1.43,1.42,1.41, 1.41,1.40,1.39,1.38,1.37,1.37,1.36,1.36,1.35,1.35, 1.34];

const LCC_MALE_AFR = [1.90,1.92,1.96,2.00,2.04,2.07,2.10,2.13,2.15,2.13, 2.12,2.08,2.04,2.00,1.94,1.89,1.85,1.81,1.78,1.75, 1.72,1.70,1.68,1.67,1.64,1.63,1.60,1.58,1.56,1.53, 1.54,1.56,1.53,1.52,1.52,1.51,1.50,1.49,1.48,1.47, 1.46,1.46,1.45,1.45,1.44,1.43,1.43,1.42,1.41,1.41, 1.41,1.40,1.40,1.39,1.39,1.38,1.38,1.37,1.37,1.37, 1.36];
const LCC_MALE_EMR = [2.92,2.90,2.90,2.98,3.06,3.07,3.06,3.09,3.10,3.19, 3.27,3.48,3.56,3.63,3.66,3.67,3.68,3.59,3.61,3.72, 3.79,3.90,3.86,3.72,3.76,3.95,3.88,3.71,3.64,3.57, 3.57,3.60,3.52,3.49,3.47,3.44,3.41,3.38,3.35,3.31, 3.28,3.24,3.21,3.17,3.14,3.10,3.07,3.03,3.00,2.97, 2.93,2.91,2.89,2.87,2.85,2.84,2.82,2.81,2.80,2.79, 2.78];
const LCC_MALE_EUR = [1.45,1.51,1.56,1.63,1.68,1.65,1.68,1.65,1.64,1.71, 1.73,1.71,1.69,1.64,1.62,1.64,1.66,1.67,1.70,1.74, 1.79,1.84,1.89,1.88,1.87,1.85,1.78,1.81,1.82,1.80, 1.83,1.84,1.87,1.89,1.91,1.92,1.94,1.95,1.97,1.99, 2.00,2.01,2.03,2.04,2.06,2.07,2.08,2.09,2.10,2.11, 2.12,2.14,2.15,2.16,2.16,2.17,2.18,2.18,2.19,2.19, 2.19];
const LCC_MALE_AMR = [0.77,0.77,0.80,0.82,0.84,0.86,0.87,0.89,0.91,0.93, 0.95,0.97,1.00,1.04,1.05,1.05,1.07,1.09,1.14,1.19, 1.22,1.26,1.29,1.31,1.31,1.33,1.38,1.38,1.37,1.36, 1.35,1.40,1.39,1.40,1.40,1.40,1.41,1.41,1.41,1.41, 1.40,1.40,1.40,1.39,1.39,1.38,1.38,1.37,1.36,1.35, 1.34,1.33,1.32,1.31,1.30,1.29,1.28,1.27,1.26,1.25, 1.24];
const LCC_MALE_SEAR = [0.73,0.73,0.74,0.74,0.74,0.75,0.75,0.75,0.76,0.76, 0.76,0.75,0.75,0.76,0.77,0.77,0.78,0.78,0.80,0.80, 0.81,0.81,0.80,0.81,0.82,0.83,0.84,0.85,0.87,0.89, 0.90,0.90,0.91,0.92,0.93,0.94,0.95,0.96,0.97,0.98, 0.99,1.00,1.01,1.02,1.02,1.03,1.04,1.05,1.05,1.06, 1.07,1.08,1.08,1.09,1.09,1.10,1.11,1.11,1.12,1.12, 1.13];
const LCC_MALE_WPR = [3.63,3.64,3.66,3.70,3.82,4.29,4.40,4.39,4.45,4.43, 4.40,4.34,4.27,4.19,4.09,4.01,3.86,3.77,3.75,3.68, 3.62,3.46,3.32,3.31,3.26,3.14,3.03,2.96,2.89,2.81, 2.86,2.83,2.80,2.78,2.76,2.73,2.70,2.66,2.63,2.60, 2.58,2.55,2.52,2.50,2.47,2.45,2.43,2.42,2.40,2.38, 2.37,2.35,2.34,2.33,2.31,2.30,2.29,2.28,2.27,2.26, 2.25];
const LCC_MALE_WORLD = [1.91,1.94,1.97,2.01,2.08,2.22,2.26,2.26,2.29,2.31, 2.32,2.31,2.29,2.26,2.23,2.21,2.18,2.15,2.17,2.18, 2.18,2.15,2.12,2.11,2.10,2.08,2.04,2.01,1.99,1.96, 1.99,2.00,2.00,2.00,2.00,2.01,2.01,2.02,2.02,2.03, 2.03,2.04,2.05,2.05,2.06,2.07,2.08,2.08,2.09,2.10, 2.11,2.12,2.12,2.13,2.14,2.15,2.15,2.16,2.17,2.18, 2.19];

// ---------- styles ----------
const COLORS = ["#D5594C", "#67B3B8", "#62A532", "#4464BE", "#D9B22C", "#3F7B3D", "#1C1744"];
const SHAPES = ["square", "triangle", "smallCircle", "square", "bigCircle", "triangle", "diamond"];
const FONT = "'Liberation Sans', Arial, Helvetica, sans-serif";
const TICK_GREY = "#4D4D4D";

// tables built from the arrays above
const ROW_DATA = [
  [
    [LC_BOTH_AFR, LC_BOTH_EMR, LC_BOTH_EUR, LC_BOTH_AMR, LC_BOTH_SEAR, LC_BOTH_WPR, LC_BOTH_WORLD],
    [LC_FEMALE_AFR, LC_FEMALE_EMR, LC_FEMALE_EUR, LC_FEMALE_AMR, LC_FEMALE_SEAR, LC_FEMALE_WPR, LC_FEMALE_WORLD],
    [LC_MALE_AFR, LC_MALE_EMR, LC_MALE_EUR, LC_MALE_AMR, LC_MALE_SEAR, LC_MALE_WPR, LC_MALE_WORLD],
  ],
  [
    [LCB_BOTH_AFR, LCB_BOTH_EMR, LCB_BOTH_EUR, LCB_BOTH_AMR, LCB_BOTH_SEAR, LCB_BOTH_WPR, LCB_BOTH_WORLD],
    [LCB_FEMALE_AFR, LCB_FEMALE_EMR, LCB_FEMALE_EUR, LCB_FEMALE_AMR, LCB_FEMALE_SEAR, LCB_FEMALE_WPR, LCB_FEMALE_WORLD],
    [LCB_MALE_AFR, LCB_MALE_EMR, LCB_MALE_EUR, LCB_MALE_AMR, LCB_MALE_SEAR, LCB_MALE_WPR, LCB_MALE_WORLD],
  ],
  [
    [LCC_BOTH_AFR, LCC_BOTH_EMR, LCC_BOTH_EUR, LCC_BOTH_AMR, LCC_BOTH_SEAR, LCC_BOTH_WPR, LCC_BOTH_WORLD],
    [LCC_FEMALE_AFR, LCC_FEMALE_EMR, LCC_FEMALE_EUR, LCC_FEMALE_AMR, LCC_FEMALE_SEAR, LCC_FEMALE_WPR, LCC_FEMALE_WORLD],
    [LCC_MALE_AFR, LCC_MALE_EMR, LCC_MALE_EUR, LCC_MALE_AMR, LCC_MALE_SEAR, LCC_MALE_WPR, LCC_MALE_WORLD],
  ],
];

const ROWS = [
  { letter: "A", title: "Age\u2212standardized mortality rate of LC", top: 206, bottom: 991, domain: [-0.915, 19.93], ticks: LC_TICKS, fmt: (d) => String(d), lefts: [129, 1110, 2094] },
  { letter: "B", title: "Age\u2212standardized mortality rate of LCB", top: 1199, bottom: 1982, domain: [-0.53, 11.54], ticks: LCB_TICKS, fmt: (d) => String(d), lefts: [129, 1110, 2094] },
  { letter: "C", title: "Age\u2212standardized mortality rate of LCC", top: 2192, bottom: 2976, domain: [-0.235, 5.03], ticks: LCC_TICKS, fmt: d3.format(".1f"), lefts: [137, 1121, 2103] },
];
const RIGHTS = [1022, 2004, 2987];

function Marker({ shape, x, y, color }) {
  if (shape === "square") return <rect x={x - 5.6} y={y - 5.6} width={11.2} height={11.2} fill={color} />;
  if (shape === "bigCircle") return <circle cx={x} cy={y} r={7.1} fill={color} />;
  if (shape === "smallCircle") return <circle cx={x} cy={y} r={4.9} fill={color} />;
  if (shape === "triangle") return <path d={`M${x},${y - 7.4}L${x + 7},${y + 4.8}L${x - 7},${y + 4.8}Z`} fill={color} />;
  return <path d={`M${x},${y - 5.4}L${x + 4.5},${y}L${x},${y + 5.4}L${x - 4.5},${y}Z`} fill={color} />;
}

function Panel({ row, rowIndex, col }) {
  const L = row.lefts[col];
  const R = RIGHTS[col];
  const x = d3.scaleLinear().domain([1987, 2053]).range([L, R]);
  const y = d3.scaleLinear().domain(row.domain).range([row.bottom, row.top]);
  const series = ROW_DATA[rowIndex][col];
  return (
    <g>
      <line x1={x(PROJECTION_START)} x2={x(PROJECTION_START)} y1={row.top} y2={row.bottom} stroke="#7F7F7F" strokeWidth={6} strokeDasharray="25 19" strokeDashoffset={-6} />
      {series.map((vals, si) => (
        <g key={si}>
          {vals.map((v, i) => (
            <Marker key={i} shape={SHAPES[si]} x={x(YEARS[i])} y={y(v)} color={COLORS[si]} />
          ))}
        </g>
      ))}
      <line x1={L} x2={L} y1={row.top} y2={row.bottom + 2.5} stroke="#000" strokeWidth={5} />
      <line x1={L - 2.5} x2={R} y1={row.bottom} y2={row.bottom} stroke="#000" strokeWidth={5} />
      {row.ticks.map((t) => (
        <g key={t}>
          <line x1={L - 12} x2={L} y1={y(t)} y2={y(t)} stroke="#333" strokeWidth={4.5} />
          <text x={L - 19} y={y(t)} dy="0.36em" textAnchor="end" fontSize={38} fill={TICK_GREY} fontFamily={FONT}>{row.fmt(t)}</text>
        </g>
      ))}
      {X_TICKS.map((t) => (
        <g key={t}>
          <line x1={x(t)} x2={x(t)} y1={row.bottom} y2={row.bottom + 12} stroke="#333" strokeWidth={4.5} />
          <text transform={`translate(${x(t)},${row.bottom + 20}) rotate(-45)`} dy="0.72em" textAnchor="end" fontSize={38} fill={TICK_GREY} fontFamily={FONT}>{t}</text>
        </g>
      ))}
      {rowIndex === 0 && (
        <text x={(L + R) / 2} y={175} textAnchor="middle" fontSize={47} fill="#000" fontFamily={FONT}>{SEXES[col]}</text>
      )}
      {col === 0 && (
        <text transform={`translate(38,${(row.top + row.bottom) / 2 - 18}) rotate(-90)`} textAnchor="middle" fontSize={38} fill="#000" fontFamily={FONT}>{row.title}</text>
      )}
    </g>
  );
}

const LEGEND_COL_X = [719, 1297, 1745, 2210];
const LEGEND_ROW_Y = [36, 90];

export default function App() {
  return (
    <svg width={3000} height={3139} viewBox="0 0 3000 3139" style={{ position: "absolute", left: 0, top: 0, background: "#fff" }} xmlns="http://www.w3.org/2000/svg">
      <rect x={0} y={0} width={3000} height={3139} fill="#fff" />
      {REGIONS.map((name, i) => {
        const cx = LEGEND_COL_X[Math.floor(i / 2)];
        const cy = LEGEND_ROW_Y[i % 2];
        return (
          <g key={name}>
            <Marker shape={SHAPES[i]} x={cx} y={cy} color={COLORS[i]} />
            <text x={cx + 26} y={cy} dy="0.36em" fontSize={38.5} fill="#000" fontFamily={FONT}>{name}</text>
          </g>
        );
      })}
      {ROWS.map((row, ri) => (
        <g key={row.letter}>
          <text x={2} y={row.top - 31} fontSize={55} fontWeight="bold" fill="#000" fontFamily={FONT}>{row.letter}</text>
          {[0, 1, 2].map((ci) => (
            <Panel key={ci} row={row} rowIndex={ri} col={ci} />
          ))}
        </g>
      ))}
      <text x={1527} y={3130} textAnchor="middle" fontSize={38} fill="#000" fontFamily={FONT}>Year</text>
    </svg>
  );
}
